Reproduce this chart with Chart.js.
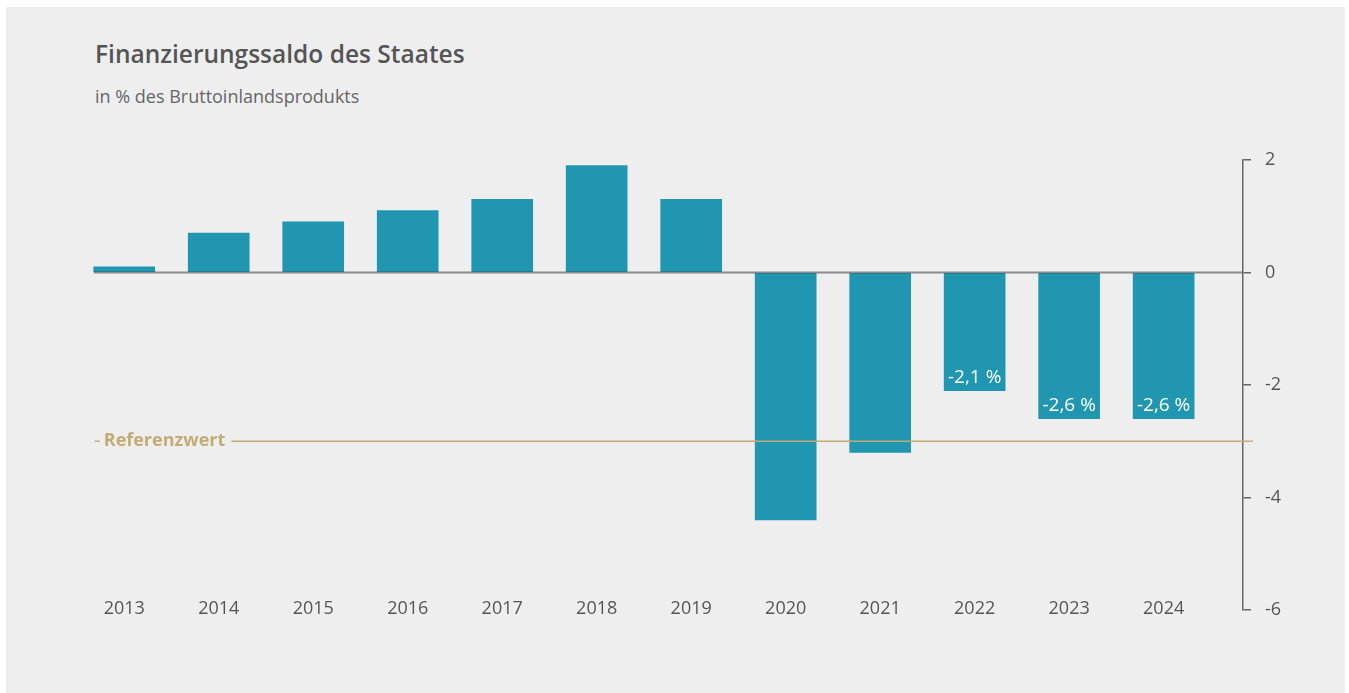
<!DOCTYPE html>
<html lang="de">
<head>
<meta charset="utf-8">
<title>Finanzierungssaldo des Staates</title>
<script src="https://cdn.jsdelivr.net/npm/chart.js@4/dist/chart.umd.min.js"></script>
<style>
  html, body { margin: 0; padding: 0; background: #ffffff; }
  body { width: 1349px; height: 693px; position: relative; overflow: hidden; font-family: "Open Sans", sans-serif; }
  #panel { position: absolute; left: 6px; top: 7px; width: 1339px; height: 686px; background: #eeeeee; }
  #title { position: absolute; left: 95px; top: 37px; margin: 0; font-size: 24.5px; font-weight: 600; color: #555555; }
  #subtitle { position: absolute; left: 95px; top: 84px; margin: 0; font-size: 18px; font-weight: 400; color: #666666; }
  #chart { position: absolute; left: 0; top: 0; }
</style>
</head>
<body>
<div id="panel"></div>
<h1 id="title">Finanzierungssaldo des Staates</h1>
<p id="subtitle">in % des Bruttoinlandsprodukts</p>
<canvas id="chart" width="1349" height="693"></canvas>
<script>
// Data
const years = [2013, 2014, 2015, 2016, 2017, 2018, 2019, 2020, 2021, 2022, 2023, 2024];
const saldo = [0.1, 0.7, 0.9, 1.1, 1.3, 1.9, 1.3, -4.4, -3.2, -2.1, -2.6, -2.6];
const labelledYears = [2022, 2023, 2024];
const yTicks = [2, 0, -2, -4, -6];
const referenzwert = -3;
const referenzLabel = 'Referenzwert';

const barColor = '#2196b1';
const textColor = '#555555';
const goldColor = '#c2ac76';

// zero line, reference line and value labels
const extras = {
    id: 'extras',
    afterDatasetsDraw(chart) {
        const ctx = chart.ctx;
        const ys = chart.scales.y;
        const area = chart.chartArea;
        const bars = chart.getDatasetMeta(0).data;
        const x0 = bars[0].x - bars[0].width / 2;

        // reference line
        const yRef = ys.getPixelForValue(referenzwert);
        ctx.save();
        ctx.strokeStyle = goldColor;
        ctx.lineWidth = 1.5;
        ctx.beginPath();
        ctx.moveTo(x0 + 1, yRef);
        ctx.lineTo(x0 + 6, yRef);
        ctx.stroke();
        ctx.font = 'bold 18px "Open Sans", sans-serif';
        ctx.fillStyle = goldColor;
        ctx.textAlign = 'left';
        ctx.textBaseline = 'middle';
        const tx = x0 + 10;
        ctx.fillText(referenzLabel, tx, yRef);
        const tw = ctx.measureText(referenzLabel).width;
        ctx.beginPath();
        ctx.moveTo(tx + tw + 6, yRef);
        ctx.lineTo(area.right + 10, yRef);
        ctx.stroke();

        // zero line
        const y0 = ys.getPixelForValue(0);
        ctx.strokeStyle = 'rgba(60, 60, 60, 0.55)';
        ctx.lineWidth = 2;
        ctx.beginPath();
        ctx.moveTo(x0, y0);
        ctx.lineTo(area.right, y0);
        ctx.stroke();

        // value labels
        ctx.font = '19px "Open Sans", sans-serif';
        ctx.fillStyle = '#ffffff';
        ctx.textAlign = 'center';
        ctx.textBaseline = 'middle';
        years.forEach((yr, i) => {
            if (!labelledYears.includes(yr)) return;
            const b = bars[i];
            const txt = saldo[i].toFixed(1).replace('.', ',') + ' %';
            ctx.fillText(txt, b.x, b.y - 13);
        });
        ctx.restore();
    }
};

const chart = new Chart(document.getElementById('chart'), {
    type: 'bar',
    data: {
        labels: years,
        datasets: [{
            data: saldo,
            backgroundColor: barColor,
            borderWidth: 0,
            barThickness: 61
        }]
    },
    options: {
        responsive: false,
        animation: false,
        layout: {
            padding: { left: 77, right: 46, top: 160, bottom: 83 }
        },
        plugins: {
            legend: { display: false },
            tooltip: { enabled: false },
            title: { display: false }
        },
        scales: {
            x: {
                type: 'linear',
                offset: false,
                min: 2012.5,
                max: 2024.84,
                afterBuildTicks: s => { s.ticks = years.map(v => ({ value: v })); },
                afterFit: s => { s.height = 0; },
                grid: { display: false, drawTicks: false },
                border: { display: false },
                ticks: {
                    color: textColor,
                    font: { family: '"Open Sans", sans-serif', size: 18 },
                    mirror: true,
                    padding: -10,
                    maxRotation: 0,
                    autoSkip: false,
                    callback: v => String(v)
                }
            },
            y: {
                position: 'right',
                min: -6,
                max: 2,
                afterBuildTicks: s => { s.ticks = yTicks.map(v => ({ value: v })); },
                afterFit: s => { s.width = 60; },
                grid: {
                    drawOnChartArea: false,
                    drawTicks: true,
                    tickLength: 8,
                    color: '#666666',
                    lineWidth: 1.5
                },
                border: { display: true, color: '#666666', width: 1.5 },
                ticks: {
                    color: textColor,
                    font: { family: '"Open Sans", sans-serif', size: 18 },
                    padding: 14,
                    callback: v => String(v)
                }
            }
        }
    },
    plugins: [extras]
});
</script>
</body>
</html>
